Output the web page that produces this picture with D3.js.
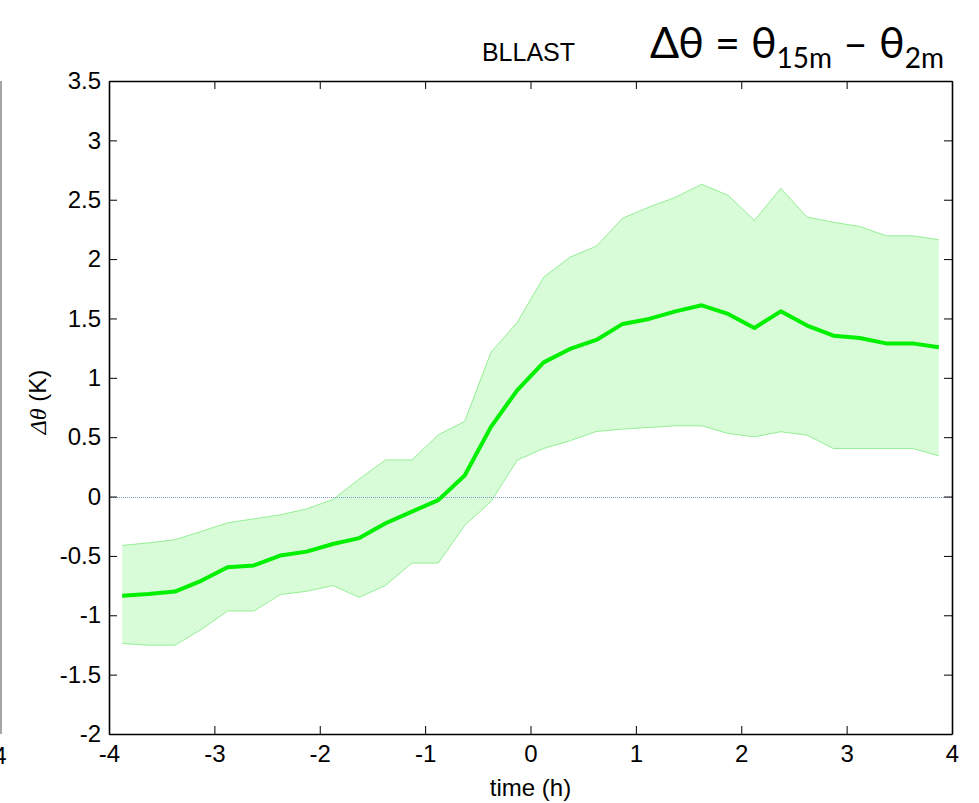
<!DOCTYPE html>
<html>
<head>
<meta charset="utf-8">
<script src="https://cdn.jsdelivr.net/npm/d3@7"></script>
<style>
  body { margin: 0; background: #fff; }
  svg { display: block; }
  .tick text { font-family: "Liberation Sans", Arial, sans-serif; font-size: 24px; fill: #000; }
</style>
</head>
<body>
<svg id="chart" width="979" height="803"></svg>
<script>
// hours relative to event
var times = [-3.875, -3.625, -3.375, -3.125, -2.875, -2.625, -2.375, -2.125,
  -1.875, -1.625, -1.375, -1.125, -0.875, -0.625, -0.375, -0.125,
  0.125, 0.375, 0.625, 0.875, 1.125, 1.375, 1.625, 1.875,
  2.125, 2.375, 2.625, 2.875, 3.125, 3.375, 3.625, 3.875];

var meanDT = [-0.835, -0.82, -0.80, -0.71, -0.596, -0.58, -0.497, -0.464,
  -0.40, -0.35, -0.225, -0.127, -0.03, 0.177, 0.587, 0.897,
  1.13, 1.243, 1.319, 1.454, 1.496, 1.56, 1.611, 1.538,
  1.42, 1.56, 1.44, 1.355, 1.336, 1.29, 1.29, 1.257];

var upperDT = [-0.412, -0.39, -0.364, -0.294, -0.221, -0.188, -0.154, -0.104,
  -0.025, 0.148, 0.308, 0.308, 0.52, 0.632, 1.215, 1.468,
  1.848, 2.016, 2.109, 2.345, 2.438, 2.52, 2.63, 2.537,
  2.326, 2.596, 2.354, 2.31, 2.275, 2.196, 2.196, 2.163];

var lowerDT = [-1.238, -1.252, -1.252, -1.12, -0.964, -0.964, -0.826, -0.798,
  -0.75, -0.849, -0.748, -0.56, -0.56, -0.244, -0.042, 0.307,
  0.405, 0.47, 0.548, 0.568, 0.582, 0.596, 0.596, 0.531,
  0.503, 0.546, 0.517, 0.405, 0.405, 0.405, 0.405, 0.343];

var xTicks = [-4, -3, -2, -1, 0, 1, 2, 3, 4];
var yTicks = [-2, -1.5, -1, -0.5, 0, 0.5, 1, 1.5, 2, 2.5, 3, 3.5];

var rows = times.map(function (t, i) {
  return { t: t, m: meanDT[i], hi: upperDT[i], lo: lowerDT[i] };
});

const margin = { top: 81, right: 27, bottom: 69, left: 109 },
  width = 979 - margin.left - margin.right,
  height = 803 - margin.top - margin.bottom;

const svg = d3.select("#chart");
const g = svg.append("g")
  .attr("transform", "translate(" + margin.left + "," + margin.top + ")");

const x = d3.scaleLinear().domain([-4, 4]).range([0, width]);
const y = d3.scaleLinear().domain([-2, 3.5]).range([height, 0]);

// plain hyphen like the original plot
var fmt = function (d) { return String(d); };

// spread band
var area = d3.area()
  .x(function (d) { return x(d.t); })
  .y0(function (d) { return y(d.lo); })
  .y1(function (d) { return y(d.hi); });
g.append("path").datum(rows)
  .attr("d", area)
  .attr("fill", "#d8fcd8");

g.append("path").datum(rows)
  .attr("d", d3.line().x(d => x(d.t)).y(d => y(d.hi)))
  .attr("fill", "none").attr("stroke", "#95ef95").attr("stroke-width", 1);
g.append("path").datum(rows)
  .attr("d", d3.line().x(d => x(d.t)).y(d => y(d.lo)))
  .attr("fill", "none").attr("stroke", "#95ef95").attr("stroke-width", 1);

// zero line, light blue dots
var y0 = Math.round(y(0)) + 0.5;
g.append("line")
  .attr("x1", 0).attr("x2", width)
  .attr("y1", y0).attr("y2", y0)
  .attr("stroke", "#7a9ccf").attr("stroke-width", 1)
  .attr("stroke-dasharray", "1,1");

// mean
g.append("path").datum(rows)
  .attr("d", d3.line().x(d => x(d.t)).y(d => y(d.m)))
  .attr("fill", "none").attr("stroke", "#00f000").attr("stroke-width", 4)
  .attr("stroke-linejoin", "round");

// axes, ticks inward on all four sides
g.append("g")
  .attr("transform", "translate(0," + height + ")")
  .call(d3.axisBottom(x).tickValues(xTicks).tickFormat(fmt).tickSizeInner(-8).tickSizeOuter(0).tickPadding(11))
  .call(a => a.select(".domain").attr("stroke-width", 1.6));
g.append("g")
  .call(d3.axisTop(x).tickValues(xTicks).tickFormat("").tickSizeInner(-8).tickSizeOuter(0))
  .call(a => a.select(".domain").attr("stroke-width", 1.6));
g.append("g")
  .call(d3.axisLeft(y).tickValues(yTicks).tickFormat(fmt).tickSizeInner(-8).tickSizeOuter(0).tickPadding(8))
  .call(a => a.select(".domain").attr("stroke-width", 1.6));
g.append("g")
  .attr("transform", "translate(" + width + ",0)")
  .call(d3.axisRight(y).tickValues(yTicks).tickFormat("").tickSizeInner(-8).tickSizeOuter(0))
  .call(a => a.select(".domain").attr("stroke-width", 1.6));

// title and labels
svg.append("text")
  .attr("x", margin.left + width / 2 - 2).attr("y", 61)
  .attr("text-anchor", "middle")
  .style("font-family", "Liberation Sans, Arial, sans-serif")
  .style("font-size", "25px")
  .text("BLLAST");

svg.append("text")
  .attr("x", margin.left + width / 2).attr("y", 796)
  .attr("text-anchor", "middle")
  .style("font-family", "Liberation Sans, Arial, sans-serif")
  .style("font-size", "24px")
  .text("time (h)");

var yl = svg.append("text")
  .attr("transform", "translate(46,402) rotate(-90)")
  .attr("text-anchor", "middle")
  .style("font-family", "Liberation Sans, Arial, sans-serif")
  .style("font-size", "24px");
yl.append("tspan").style("font-style", "italic").style("font-family", "Liberation Serif, serif").text("Δθ");
yl.append("tspan").text(" (K)");

// formula
var f = svg.append("text")
  .attr("x", 650).attr("y", 58)
  .style("font-family", "Lato, 'Open Sans', sans-serif")
  .style("font-size", "43px");
f.append("tspan").text("Δθ = θ");
f.append("tspan").attr("dy", 10).style("font-size", "28px").text("15m");
f.append("tspan").attr("dy", -10).text(" – θ");
f.append("tspan").attr("dy", 10).style("font-size", "28px").text("2m");

// edge of neighbouring panel
svg.append("line")
  .attr("x1", 1).attr("x2", 1)
  .attr("y1", margin.top).attr("y2", margin.top + height)
  .attr("stroke", "#888").attr("stroke-width", 1.5);
svg.append("text")
  .attr("x", 0).attr("y", 764)
  .attr("text-anchor", "middle")
  .style("font-family", "Liberation Sans, Arial, sans-serif")
  .style("font-size", "24px")
  .text("4");
</script>
</body>
</html>
